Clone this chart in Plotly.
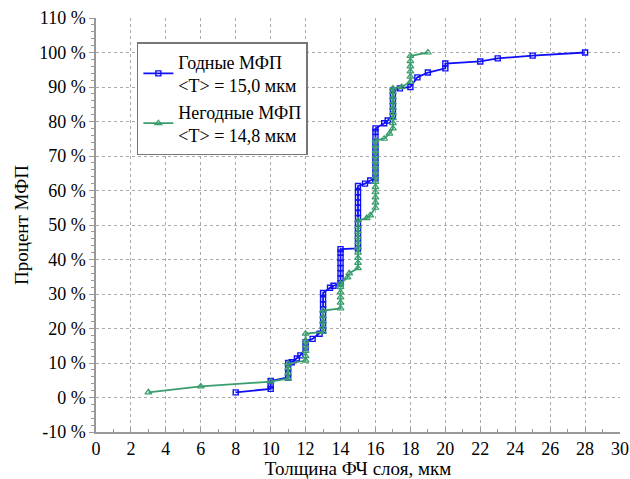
import plotly.graph_objects as go

# Годные МФП (good): thickness (мкм) and cumulative percent
good_x = [8, 10, 10, 10, 11, 11, 11, 11, 11.2, 11.5, 11.7, 12, 12, 12.4, 12.8,
          13, 13, 13, 13, 13, 13, 13, 13, 13.4, 13.6,
          14, 14, 14, 14, 14, 14, 14, 14,
          15, 15, 15, 15, 15, 15, 15, 15, 15, 15, 15, 15, 15,
          15.4, 15.7,
          16, 16, 16, 16, 16, 16, 16, 16, 16, 16, 16,
          16.5, 16.7,
          17, 17, 17, 17, 17, 17,
          17.4, 18, 18.4, 19, 20, 20, 22, 23, 25, 28]
good_y = [1.5, 2.5, 3.5, 4.8, 5.8, 7, 8.5, 10, 10.2, 11.3, 12.2, 14.5, 16, 17, 18.5,
          19.5, 21, 22.5, 24, 25.5, 27, 28.5, 30.3, 31.8, 32.4,
          33, 34.5, 36, 37.5, 39, 40.5, 42, 43,
          43.2, 44.5, 46, 47.5, 49, 50.5, 52, 53.5, 55, 56.5, 58, 59.5, 61.3,
          62, 62.9,
          63.5, 65, 66.5, 68, 69.5, 71, 72.5, 74, 75.5, 77, 78,
          79.5, 80.3,
          81.5, 83, 84.5, 86, 87.5, 89,
          89.6, 90, 92.8, 94.2, 95.4, 96.8, 97.4, 98.3, 99.1, 100]

# Негодные МФП (rejected)
bad_x = [3, 6, 10, 11, 11, 11, 11,
         12, 12, 12, 12, 12, 12,
         13, 13, 13, 13, 13,
         14, 14, 14, 14, 14, 14, 14.4, 14.5,
         15, 15, 15, 15, 15, 15, 15, 15, 15, 15,
         15.5, 15.7,
         16, 16, 16, 16, 16, 16, 16, 16, 16, 16, 16, 16, 16, 16,
         16.5, 16.8,
         17, 17, 17, 17, 17, 17, 17, 17, 17,
         17.5, 18, 18, 18, 18, 18, 18, 19]
bad_y = [1.5, 3.2, 4.6, 5.5, 7, 8.5, 9.8,
         10.7, 12, 13.5, 15, 16.5, 18.5,
         19, 20.5, 22, 23.5, 25.2,
         25.8, 27.5, 29, 30.5, 32, 33, 34.8, 36,
         37.5, 39, 40.5, 42, 43.5, 45, 46.5, 48, 49.5, 51.3,
         52, 52.8,
         55, 56.5, 58, 59.5, 61, 62.5, 64, 65.5, 67, 68.5, 70, 71.5, 73, 74.5,
         75, 76.5,
         78, 79.5, 81, 82.5, 84, 85.5, 87, 88.5, 89.6,
         90, 91.5, 93, 94.5, 96, 97.5, 99, 100]

x_ticks = list(range(0, 31, 2))
y_ticks = list(range(-10, 111, 10))
y_labels = [f"{v} %" for v in y_ticks]

BLUE = "#1010f5"
GREEN = "#3a9d6e"
FONT = "Liberation Serif, Tinos, Times New Roman, serif"

fig = go.Figure()
fig.add_trace(go.Scatter(
    x=good_x, y=good_y, mode="lines+markers",
    name="Годные МФП<br>&lt;T&gt; = 15,0 мкм",
    line=dict(color=BLUE, width=1.8),
    marker=dict(symbol="square-open", size=5, color=BLUE, line=dict(width=1.4)),
))
fig.add_trace(go.Scatter(
    x=bad_x, y=bad_y, mode="lines+markers",
    name="Негодные МФП<br>&lt;T&gt; = 14,8 мкм",
    line=dict(color=GREEN, width=1.8),
    marker=dict(symbol="triangle-up-open", size=6, color=GREEN, line=dict(width=1.2)),
))

fig.update_layout(
    width=630, height=479,
    margin=dict(l=96, r=10, t=18, b=47),
    paper_bgcolor="white", plot_bgcolor="white",
    font=dict(family=FONT, size=18, color="black"),
    legend=dict(
        x=0.078, y=0.942, xanchor="left", yanchor="top",
        bgcolor="white", bordercolor="#777", borderwidth=1.5,
        font=dict(family=FONT, size=18), tracegroupgap=0,
        itemwidth=30,
    ),
    showlegend=True,
)
fig.update_xaxes(
    range=[0, 30], tickmode="array", tickvals=x_ticks,
    ticktext=[str(v) for v in x_ticks],
    showgrid=True, gridcolor="#aaa", griddash="dot", gridwidth=1,
    showline=True, linecolor="#999", linewidth=1.5,
    ticks="inside", ticklen=4, tickcolor="#999",
    minor=dict(dtick=1, ticks="inside", ticklen=3, tickcolor="#999", showgrid=False),
    zeroline=False, automargin=False,
    title=dict(text="Толщина ФЧ слоя, мкм", font=dict(family=FONT, size=19), standoff=0),
    tickfont=dict(family=FONT, size=18),
)
fig.update_yaxes(
    range=[-10, 110], tickmode="array", tickvals=y_ticks, ticktext=y_labels,
    showgrid=True, gridcolor="#aaa", griddash="dot", gridwidth=1,
    showline=True, linecolor="#999", linewidth=1.5,
    ticks="outside", ticklen=5, tickcolor="#999",
    minor=dict(dtick=2, ticks="outside", ticklen=3, tickcolor="#999", showgrid=False),
    zeroline=False, automargin=False,
    title=dict(text="Процент МФП", font=dict(family=FONT, size=19), standoff=6),
    tickfont=dict(family=FONT, size=18),
)

fig.write_html("out.html")
